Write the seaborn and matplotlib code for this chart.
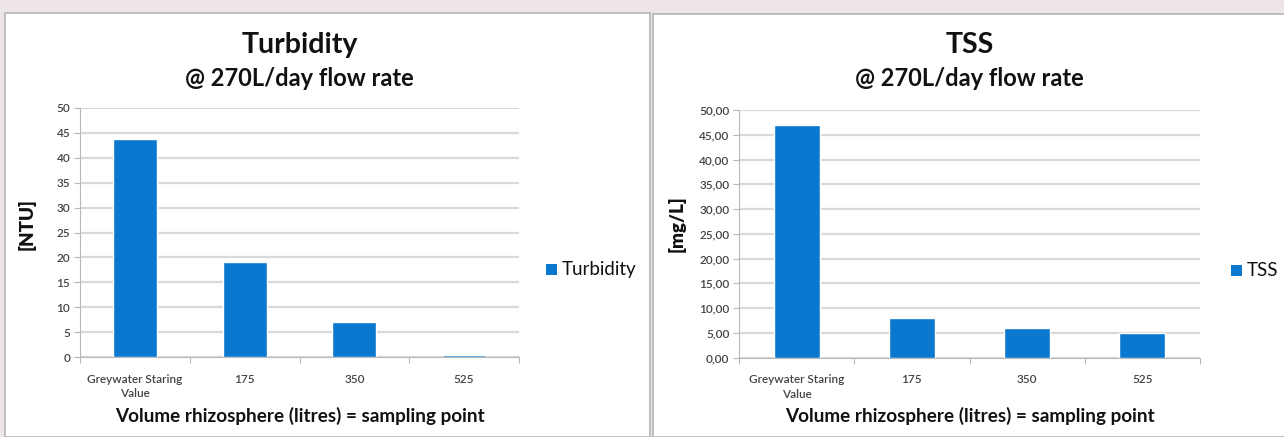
import matplotlib
matplotlib.use("Agg")
import matplotlib.pyplot as plt
import matplotlib.ticker as mticker
from matplotlib.patches import Rectangle
import seaborn as sns
import pandas as pd

# Sampling points along the rhizosphere
categories = ["Greywater Staring\nValue", "175", "350", "525"]
turbidity_ntu = [43.7, 19.0, 7.0, 0.4]
tss_mg_l = [46.9, 8.0, 5.9, 4.9]

BAR_BLUE = "#0B78CF"
GRID = "#d9d9d9"
AXIS = "#b8b8b8"
TEXT = "#111111"
TICK_TEXT = "#444444"

sns.set_theme(style="white")
plt.rcParams["font.family"] = ["Lato", "DejaVu Sans"]

fig = plt.figure(figsize=(12.84, 4.37), dpi=100)
fig.patch.set_facecolor("#ede5e8")

W, H = 1284, 437


def fx(px):
    return px / W


def fy(py):
    return 1 - py / H


# White chart panels
fig.add_artist(Rectangle((fx(5), 0), fx(650 - 5), fy(13), transform=fig.transFigure,
                         facecolor="white", edgecolor="#b5b5b5", lw=1.2, zorder=0))
fig.add_artist(Rectangle((fx(653), 0), fx(1290 - 653), fy(14), transform=fig.transFigure,
                         facecolor="white", edgecolor="#b5b5b5", lw=1.2, zorder=0))


def panel(box, values, title, ylabel, ylabel_x, series, fmt, legend_xy):
    left, right, top, bottom = box
    rect = [fx(left), fy(bottom), fx(right - left), (bottom - top) / H]
    ax = fig.add_axes(rect)
    df = pd.DataFrame({"point": categories, "value": values})
    sns.barplot(data=df, x="point", y="value", color=BAR_BLUE, width=0.4,
                saturation=1, ax=ax, zorder=3)
    ax.set_facecolor("none")
    ax.set_ylim(0, 50)
    ax.set_xlim(-0.5, 3.5)
    ax.yaxis.set_major_locator(mticker.MultipleLocator(5))
    ax.yaxis.set_major_formatter(mticker.FuncFormatter(fmt))
    ax.grid(axis="y", color=GRID, lw=1.6, zorder=0)
    ax.set_axisbelow(True)
    for s in ("top", "right"):
        ax.spines[s].set_visible(False)
    for s in ("left", "bottom"):
        ax.spines[s].set_color(AXIS)
        ax.spines[s].set_linewidth(0.8)
        ax.spines[s].set_zorder(1)
    ax.tick_params(axis="y", which="major", left=True, length=4, width=0.8, color=AXIS,
                   labelsize=8.5, labelcolor=TICK_TEXT, pad=3)
    ax.tick_params(axis="x", which="major", bottom=False, labelsize=8.5,
                   labelcolor=TICK_TEXT, pad=6)
    for lab in ax.get_xticklabels() + ax.get_yticklabels():
        lab.set_fontweight("semibold")
    for lab in ax.get_xticklabels():
        lab.set_linespacing(1.4)
    ax.xaxis.set_minor_locator(mticker.FixedLocator([-0.5, 0.5, 1.5, 2.5, 3.5]))
    ax.tick_params(axis="x", which="minor", bottom=True, length=4, width=0.8, color=AXIS)

    ax.set_xlabel("Volume rhizosphere (litres) = sampling point", fontsize=13.6,
                  fontweight="bold", color=TEXT)
    ax.xaxis.label.set_va("center")
    ax.xaxis.set_label_coords(fx((left + right) / 2), fy(416), transform=fig.transFigure)

    ax.set_ylabel(ylabel, fontsize=13.5, fontweight="heavy", color=TEXT)
    ax.yaxis.label.set_va("center")
    ax.yaxis.set_label_coords(fx(ylabel_x), fy(224), transform=fig.transFigure)

    cx = fx((left + right) / 2)
    fig.text(cx, fy(45), title, ha="center", va="center",
             fontsize=20.5, fontweight="bold", color=TEXT)
    fig.text(cx, fy(78), "@ 270L/day flow rate", ha="center",
             va="center", fontsize=17, fontweight="bold", color=TEXT)

    # Legend entry to the right of the plot area
    lx, ly = legend_xy
    fig.add_artist(Rectangle((fx(lx), fy(ly + 5.5)), fx(11), 11 / H,
                             transform=fig.transFigure, facecolor=BAR_BLUE,
                             edgecolor="none"))
    fig.text(fx(lx + 16), fy(ly), series, ha="left", va="center", fontsize=13.5,
             color=TEXT)
    return ax


panel((80, 519, 108, 357), turbidity_ntu,
      "Turbidity", "[NTU]", 27, "Turbidity", lambda v, p: f"{v:.0f}", (546, 269))
panel((739, 1200, 110, 357.7), tss_mg_l,
      "TSS", "[mg/L]", 677, "TSS", lambda v, p: f"{v:.2f}".replace(".", ","),
      (1231, 270))

fig.savefig("out.png", dpi=100, facecolor=fig.get_facecolor())
